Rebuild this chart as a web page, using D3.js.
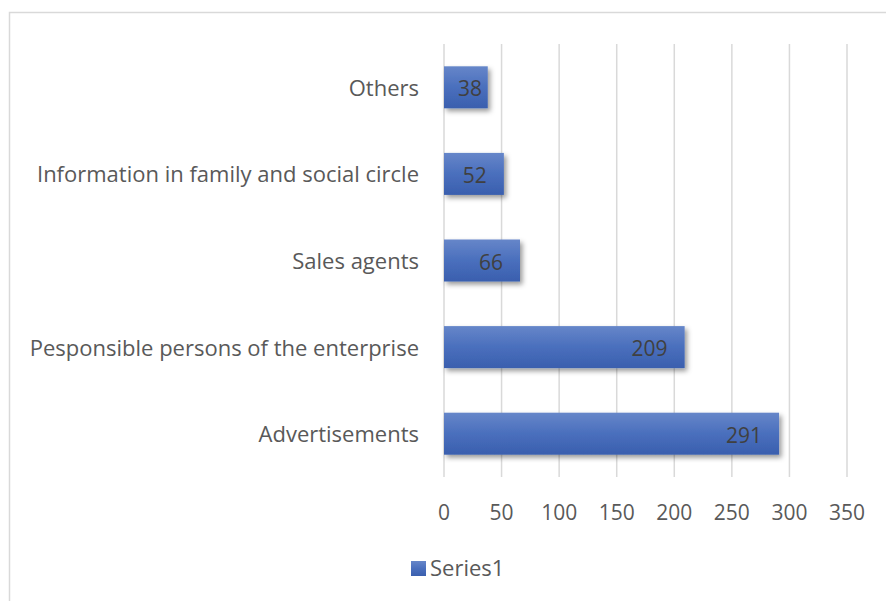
<!DOCTYPE html>
<html>
<head>
<meta charset="utf-8">
<script src="https://cdn.jsdelivr.net/npm/d3@7"></script>
<style>
  html, body { margin: 0; padding: 0; background: #fff; }
  svg { display: block; }
  text { font-family: "Open Sans", "Noto Sans", sans-serif; }
</style>
</head>
<body>
<svg id="chart" width="886" height="601"></svg>
<script>
// Sources of information, horizontal bar chart
const categories = [
  "Others",
  "Information in family and social circle",
  "Sales agents",
  "Responsible persons of the enterprise",
  "Advertisements"
];
const categoryLabels = [
  "Others",
  "Information in family and social circle",
  "Sales agents",
  "Pesponsible persons of the enterprise",
  "Advertisements"
];
const series1 = [38, 52, 66, 209, 291];
const xTicks = [0, 50, 100, 150, 200, 250, 300, 350];
const seriesName = "Series1";

const svg = d3.select("#chart");
const W = 886, H = 601;

// outer chart frame
svg.append("rect")
  .attr("x", 9.5).attr("y", 12.5)
  .attr("width", W).attr("height", H)
  .attr("fill", "#fff")
  .attr("stroke", "#d9d9d9").attr("stroke-width", 1.5);

const defs = svg.append("defs");
const grad = defs.append("linearGradient")
  .attr("id", "barGrad").attr("x1", 0).attr("y1", 0).attr("x2", 0).attr("y2", 1);
grad.append("stop").attr("offset", "0%").attr("stop-color", "#6686c9");
grad.append("stop").attr("offset", "50%").attr("stop-color", "#4a6fbd");
grad.append("stop").attr("offset", "100%").attr("stop-color", "#3a5fae");

const shadow = defs.append("filter").attr("id", "barShadow")
  .attr("x", "-10%").attr("y", "-20%").attr("width", "130%").attr("height", "160%");
shadow.append("feDropShadow")
  .attr("dx", 2.5).attr("dy", 3).attr("stdDeviation", 2.5)
  .attr("flood-color", "#000").attr("flood-opacity", 0.4);

const plot = { left: 444, right: 847, top: 44, bottom: 477 };

const x = d3.scaleLinear().domain([0, 350]).range([plot.left, plot.right]);
const y = d3.scaleBand().domain(categories).range([plot.top, plot.bottom])
  .paddingInner(0.515).paddingOuter(0.2575);

// vertical gridlines
svg.append("g").selectAll("line").data(xTicks).join("line")
  .attr("x1", d => x(d)).attr("x2", d => x(d))
  .attr("y1", plot.top).attr("y2", plot.bottom)
  .attr("stroke", "#d9d9d9").attr("stroke-width", 1.5);

// x tick labels
svg.append("g").selectAll("text").data(xTicks).join("text")
  .attr("x", d => x(d)).attr("y", 520)
  .attr("text-anchor", "middle")
  .attr("font-size", 21).attr("fill", "#595959")
  .text(d => d);

// category labels
svg.append("g").selectAll("text").data(categories).join("text")
  .attr("x", 419).attr("y", d => y(d) + y.bandwidth() / 2 + 8.5)
  .attr("text-anchor", "end")
  .attr("font-size", 22).attr("fill", "#595959")
  .text((d, i) => categoryLabels[i]);

// bars
svg.append("g").selectAll("rect").data(series1).join("rect")
  .attr("x", x(0))
  .attr("y", (d, i) => y(categories[i]))
  .attr("width", d => x(d) - x(0))
  .attr("height", y.bandwidth())
  .attr("fill", "url(#barGrad)")
  .attr("filter", "url(#barShadow)");

// value labels, inside the bar end
svg.append("g").selectAll("text").data(series1).join("text")
  .attr("y", (d, i) => y(categories[i]) + y.bandwidth() / 2 + 9)
  .attr("text-anchor", "end")
  .attr("font-size", 21).attr("fill", "#404040")
  .text(d => d)
  .each(function (d) {
    const w = this.getComputedTextLength();
    const end = Math.max(x(d) - 17, x(0) + 14 + w);
    d3.select(this).attr("x", end);
  });

// legend
svg.append("rect")
  .attr("x", 411).attr("y", 561).attr("width", 15).attr("height", 15)
  .attr("fill", "url(#barGrad)");
svg.append("text")
  .attr("x", 430).attr("y", 576)
  .attr("font-size", 22).attr("fill", "#595959")
  .text(seriesName);
</script>
</body>
</html>
